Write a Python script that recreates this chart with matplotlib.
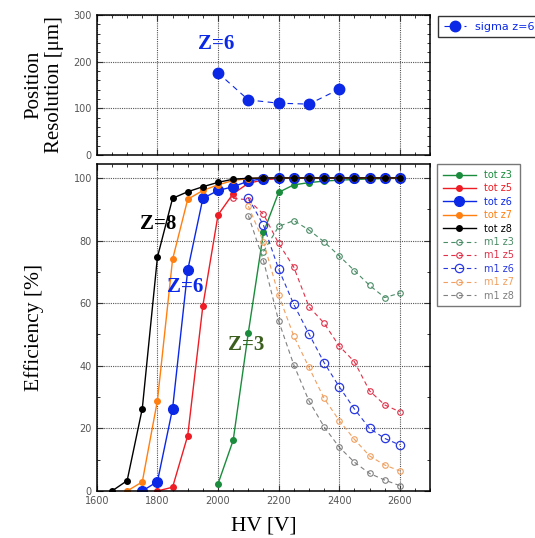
import matplotlib
matplotlib.use("Agg")
import matplotlib.pyplot as plt
from matplotlib.ticker import MultipleLocator

# position resolution, Z=6
hv_sigma = [2000, 2100, 2200, 2300, 2400]
sigma_z6 = [176, 118, 111, 109, 141]

# total efficiency curves
hv_tot_z3 = [2000, 2050, 2100, 2150, 2200, 2250, 2300, 2350, 2400, 2450, 2500, 2550, 2600]
tot_z3 = [2.3, 16.2, 50.6, 82.6, 95.4, 97.8, 98.5, 99.0, 99.3, 99.5, 99.7, 99.8, 99.9]
hv_tot_z5 = [1800, 1850, 1900, 1950, 2000, 2050, 2100, 2150, 2200, 2250, 2300, 2350,
             2400, 2450, 2500, 2550, 2600]
tot_z5 = [0, 1.2, 17.7, 59.2, 88.2, 95.0, 98.3, 99.4, 99.8, 100, 100, 100, 100, 100, 100, 100, 100]
hv_tot_z6 = [1750, 1800, 1850, 1900, 1950, 2000, 2050, 2100, 2150, 2200, 2250, 2300,
             2350, 2400, 2450, 2500, 2550, 2600]
tot_z6 = [0, 3.0, 26.3, 70.6, 93.5, 96.0, 97.2, 99.0, 99.8, 100, 100, 100, 100, 100, 100, 100, 100, 100]
hv_tot_z7 = [1700, 1750, 1800, 1850, 1900, 1950, 2000, 2050, 2100, 2150, 2200, 2250,
             2300, 2350, 2400, 2450, 2500, 2550, 2600]
tot_z7 = [0, 2.9, 28.9, 74.0, 93.2, 96.0, 97.8, 99.2, 99.8, 100, 100, 100, 100, 100, 100,
          100, 100, 100, 100]
hv_tot_z8 = [1650, 1700, 1750, 1800, 1850, 1900, 1950, 2000, 2050, 2100, 2150, 2200,
             2250, 2300, 2350, 2400, 2450, 2500, 2550, 2600]
tot_z8 = [0, 3.3, 26.3, 74.7, 93.5, 95.6, 97.2, 98.6, 99.6, 99.9, 100, 100, 100, 100, 100,
          100, 100, 100, 100, 100]

# m1 efficiency curves
hv_m1_z3 = [2150, 2200, 2250, 2300, 2350, 2400, 2450, 2500, 2550, 2600]
m1_z3 = [76.5, 84.5, 86.4, 83.4, 79.6, 75.1, 70.4, 65.7, 61.8, 63.2]
hv_m1_z5 = [2050, 2100, 2150, 2200, 2250, 2300, 2350, 2400, 2450, 2500, 2550, 2600]
m1_z5 = [93.5, 93.0, 88.4, 79.1, 71.5, 58.9, 53.6, 46.3, 41.3, 32.0, 27.5, 25.3]
hv_m1_z6 = [2100, 2150, 2200, 2250, 2300, 2350, 2400, 2450, 2500, 2550, 2600]
m1_z6 = [93.6, 84.9, 70.9, 59.6, 50.2, 41.0, 33.3, 26.2, 20.0, 16.8, 14.7]
hv_m1_z7 = [2100, 2150, 2200, 2250, 2300, 2350, 2400, 2450, 2500, 2550, 2600]
m1_z7 = [91.0, 79.6, 62.6, 49.5, 39.5, 29.6, 22.5, 16.5, 11.2, 8.3, 6.4]
hv_m1_z8 = [2100, 2150, 2200, 2250, 2300, 2350, 2400, 2450, 2500, 2550, 2600]
m1_z8 = [88.0, 73.6, 54.3, 40.3, 28.8, 20.5, 14.0, 9.2, 5.6, 3.5, 1.7]

GREEN = "#1a8c3c"
RED = "#ee1c24"
BLUE = "#0a28e6"
ORANGE = "#ff7f10"
M1_GREEN = "#4a8c66"
M1_RED = "#e03048"
M1_BLUE = "#2838e0"
M1_ORANGE = "#f0a060"
M1_GREY = "#808080"

fig = plt.figure(figsize=(5.35, 5.38), dpi=100)
ax_top = fig.add_axes([0.181, 0.712, 0.623, 0.260])
ax = fig.add_axes([0.181, 0.0874, 0.623, 0.608])


def style_axes(a):
    a.tick_params(which="both", direction="in", top=True, right=True,
                  labelsize=7, labelcolor="#555555", color="#333333")
    a.tick_params(which="major", length=4, width=0.8)
    a.tick_params(which="minor", length=2.5, width=0.7)
    a.grid(True, which="major", linestyle=(0, (1, 1)), color="#555555", linewidth=0.8)
    for s in a.spines.values():
        s.set_linewidth(1.1)


# top panel
ax_top.plot(hv_sigma, sigma_z6, color=BLUE, linestyle=(0, (5, 4)), linewidth=0.8,
            marker="o", markersize=7.5, label="sigma z=6")
ax_top.set_xlim(1600, 2700)
ax_top.set_ylim(0, 300)
ax_top.xaxis.set_major_locator(MultipleLocator(200))
ax_top.xaxis.set_minor_locator(MultipleLocator(50))
ax_top.yaxis.set_major_locator(MultipleLocator(100))
ax_top.yaxis.set_minor_locator(MultipleLocator(20))
style_axes(ax_top)
ax_top.tick_params(labelbottom=False)
ax_top.set_ylabel("Position\nResolution [μm]", family="Liberation Serif", fontsize=15,
                  linespacing=1.1)
ax_top.yaxis.set_label_coords(-0.10, 0.5)
ax_top.text(1993, 238, "Z=6", color=BLUE, fontsize=15, fontweight="bold",
            family="Liberation Serif", ha="center", va="center")
leg_top = ax_top.legend(loc="upper left", bbox_to_anchor=(0.819, 0.970),
                        bbox_transform=fig.transFigure, fontsize=8, frameon=True,
                        fancybox=False, handlelength=2.0, borderpad=0.5,
                        borderaxespad=0, labelcolor="linecolor")
leg_top.get_frame().set_edgecolor("black")
leg_top.get_frame().set_linewidth(1.0)

# bottom panel
tot_ms = 4
ax.plot(hv_tot_z3, tot_z3, color=GREEN, lw=1, marker="o", ms=tot_ms, label="tot z3")
ax.plot(hv_tot_z5, tot_z5, color=RED, lw=1, marker="o", ms=tot_ms, label="tot z5")
ax.plot(hv_tot_z6, tot_z6, color=BLUE, lw=1, marker="o", ms=7, label="tot z6")
ax.plot(hv_tot_z7, tot_z7, color=ORANGE, lw=1, marker="o", ms=tot_ms, label="tot z7")
ax.plot(hv_tot_z8, tot_z8, color="black", lw=1, marker="o", ms=tot_ms, label="tot z8")

dash = (0, (4, 3))
ax.plot(hv_m1_z3, m1_z3, color=M1_GREEN, lw=0.8, ls=dash, marker="o", ms=4,
        mfc="none", mew=0.8, label="m1 z3")
ax.plot(hv_m1_z5, m1_z5, color=M1_RED, lw=0.8, ls=dash, marker="o", ms=4,
        mfc="none", mew=0.8, label="m1 z5")
ax.plot(hv_m1_z6, m1_z6, color=M1_BLUE, lw=0.8, ls=dash, marker="o", ms=6,
        mfc="none", mew=0.9, label="m1 z6")
ax.plot(hv_m1_z7, m1_z7, color=M1_ORANGE, lw=0.8, ls=dash, marker="o", ms=4,
        mfc="none", mew=0.8, label="m1 z7")
ax.plot(hv_m1_z8, m1_z8, color=M1_GREY, lw=0.8, ls=dash, marker="o", ms=4,
        mfc="none", mew=0.8, label="m1 z8")

ax.set_xlim(1600, 2700)
ax.set_ylim(0, 104.5)
ax.xaxis.set_major_locator(MultipleLocator(200))
ax.xaxis.set_minor_locator(MultipleLocator(50))
ax.yaxis.set_major_locator(MultipleLocator(20))
ax.yaxis.set_minor_locator(MultipleLocator(10))
style_axes(ax)
ax.set_xlabel("HV [V]", family="Liberation Serif", fontsize=15.5, labelpad=8)
ax.set_ylabel("Efficiency [%]", family="Liberation Serif", fontsize=15.5)
ax.yaxis.set_label_coords(-0.158, 0.5)

ax.text(1803, 85.3, "Z=8", color="black", fontsize=15, fontweight="bold",
        family="Liberation Serif", ha="center", va="center")
ax.text(1893, 65.2, "Z=6", color=BLUE, fontsize=15, fontweight="bold",
        family="Liberation Serif", ha="center", va="center")
ax.text(2093, 46.6, "Z=3", color="#3b5e1e", fontsize=15, fontweight="bold",
        family="Liberation Serif", ha="center", va="center")

leg = ax.legend(loc="upper left", bbox_to_anchor=(0.817, 0.695),
                bbox_transform=fig.transFigure, fontsize=7, frameon=True,
                fancybox=False, handlelength=3.4, borderpad=0.6,
                labelspacing=0.35, borderaxespad=0, labelcolor="linecolor")
leg.get_frame().set_edgecolor("#555555")
leg.get_frame().set_linewidth(1.0)

fig.savefig("out.png", dpi=100)
